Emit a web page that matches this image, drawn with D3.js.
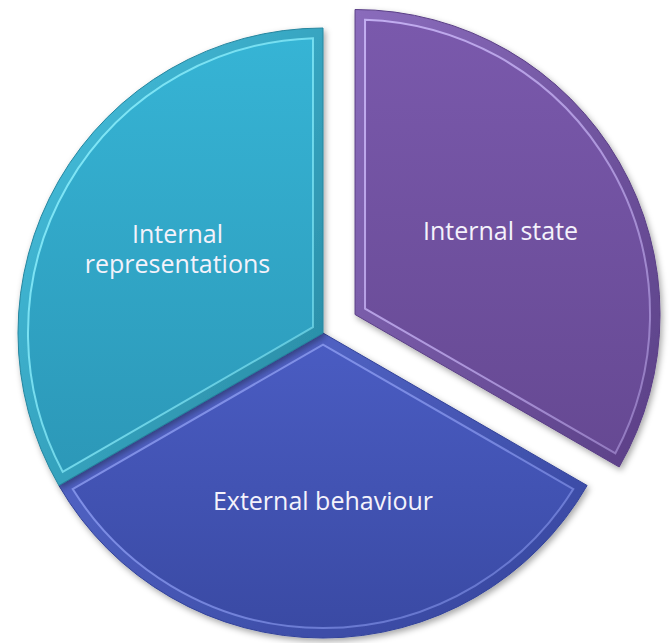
<!DOCTYPE html>
<html lang="en">
<head>
<meta charset="utf-8">
<title>Pie: internal state / external behaviour / internal representations</title>
<script src="https://cdn.jsdelivr.net/npm/d3@7/dist/d3.min.js"></script>
<style>
  body { margin: 0; background: #fff; }
  .label { font-family: "Open Sans", sans-serif; font-size: 25px; fill: #f4f2fb; }
</style>
</head>
<body>
<script>
// data
var categories = ["Internal state", "External behaviour", "Internal representations"];
var values = [1, 1, 1];
var labelLines = [["Internal state"], ["External behaviour"], ["Internal", "representations"]];
var explodedCategory = "Internal state";

var width = 669, height = 643;
var cx = 323, cy = 333, radius = 305;
var explodeBy = 37, bevel = 10, labelRadius = 168;

// colours: main top, main bottom, band light, band dark, highlight
var palette = {
  "Internal state":           ["#7a59ac", "#664993", "#8a6cbc", "#5a3f86", "#c6b2f4"],
  "External behaviour":       ["#4a5cc2", "#3a4aa4", "#5a6cd0", "#33439a", "#8a9af0"],
  "Internal representations": ["#36b4d5", "#2c98b8", "#48c4e2", "#26869f", "#8aeefc"]
};

var svg = d3.select("body").append("svg")
  .attr("width", width)
  .attr("height", height);

var defs = svg.append("defs");

var shadow = defs.append("filter").attr("id", "shadow")
  .attr("x", "-10%").attr("y", "-10%").attr("width", "120%").attr("height", "120%");
shadow.append("feDropShadow")
  .attr("dx", 2).attr("dy", 3).attr("stdDeviation", 3)
  .attr("flood-color", "#000").attr("flood-opacity", 0.35);

categories.forEach(function(c, i) {
  var p = palette[c];
  var g1 = defs.append("linearGradient").attr("id", "main" + i)
    .attr("x1", 0).attr("y1", 0).attr("x2", 0).attr("y2", 1);
  g1.append("stop").attr("offset", "0%").attr("stop-color", p[0]);
  g1.append("stop").attr("offset", "100%").attr("stop-color", p[1]);
  var g2 = defs.append("linearGradient").attr("id", "band" + i)
    .attr("x1", 0).attr("y1", 0).attr("x2", 1).attr("y2", 1);
  g2.append("stop").attr("offset", "0%").attr("stop-color", p[2]);
  g2.append("stop").attr("offset", "100%").attr("stop-color", p[3]);
  // highlight edge, brighter where the light hits (top-left)
  var g3 = defs.append("linearGradient").attr("id", "hi" + i)
    .attr("x1", 0).attr("y1", 0).attr("x2", 1).attr("y2", 1);
  g3.append("stop").attr("offset", "0%").attr("stop-color", p[4]).attr("stop-opacity", 0.95);
  g3.append("stop").attr("offset", "60%").attr("stop-color", p[4]).attr("stop-opacity", 0.7);
  g3.append("stop").attr("offset", "100%").attr("stop-color", p[4]).attr("stop-opacity", 0.45);
});

var pie = d3.pie().sort(null).value(function(d) { return d; });
var arcs = pie(values);

var outerArc = d3.arc().innerRadius(0).outerRadius(radius);

// inset copy of each slice: padding keeps the straight edges parallel
var innerArc = d3.arc()
  .outerRadius(radius - bevel)
  .innerRadius(function(d) { return bevel / Math.sin((d.endAngle - d.startAngle) / 2); })
  .padRadius(100)
  .padAngle(2 * Math.asin(bevel / 100));

var labelArc = d3.arc().innerRadius(labelRadius).outerRadius(labelRadius);

var chart = svg.append("g").attr("transform", "translate(" + cx + "," + cy + ")");

var slices = chart.selectAll("g.slice")
  .data(arcs)
  .enter().append("g")
  .attr("class", "slice")
  .attr("transform", function(d, i) {
    if (categories[i] !== explodedCategory) return null;
    var a = (d.startAngle + d.endAngle) / 2;
    return "translate(" + (explodeBy * Math.sin(a)) + "," + (-explodeBy * Math.cos(a)) + ")";
  });

slices.append("path")
  .attr("d", outerArc)
  .attr("fill", function(d, i) { return "url(#band" + i + ")"; })
  .attr("stroke", function(d, i) { return palette[categories[i]][3]; })
  .attr("stroke-width", 1)
  .attr("filter", "url(#shadow)");

slices.append("path")
  .attr("d", innerArc)
  .attr("fill", function(d, i) { return "url(#main" + i + ")"; })
  .attr("stroke", function(d, i) { return "url(#hi" + i + ")"; })
  .attr("stroke-width", 2)
  .attr("stroke-linejoin", "miter");

var lineHeight = 30;
slices.append("text")
  .attr("class", "label")
  .attr("text-anchor", "middle")
  .attr("transform", function(d) { return "translate(" + labelArc.centroid(d) + ")"; })
  .each(function(d, i) {
    var lines = labelLines[i];
    var first = 9 - (lines.length - 1) * lineHeight / 2;
    d3.select(this).selectAll("tspan")
      .data(lines)
      .enter().append("tspan")
      .attr("x", 0)
      .attr("y", function(t, j) { return first + j * lineHeight; })
      .text(function(t) { return t; });
  });
</script>
</body>
</html>
